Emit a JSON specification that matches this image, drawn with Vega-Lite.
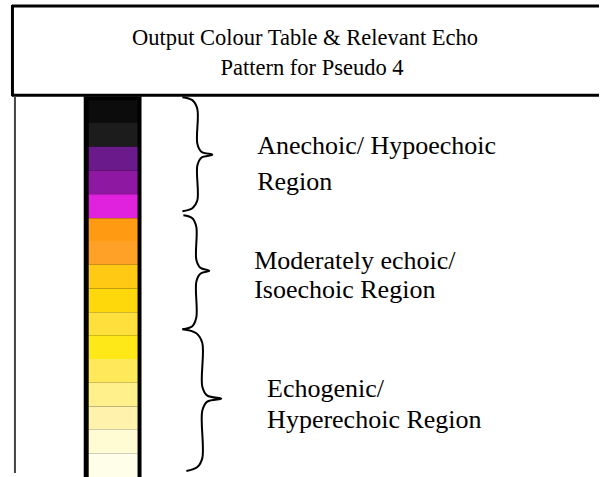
{
  "$schema": "https://vega.github.io/schema/vega-lite/v6.json",
  "width": 601,
  "height": 477,
  "autosize": {"type": "fit", "contains": "padding"},
  "padding": 0,
  "background": "white",
  "config": {"view": {"stroke": null}, "axis": {"disable": true}},
  "datasets": {
    "frame": [
      {"x": 12, "x2": 601, "y": 6, "y2": 6, "w": 3, "c": "#000000"},
      {"x": 12, "x2": 601, "y": 96, "y2": 96, "w": 3, "c": "#000000"},
      {"x": 12.5, "x2": 12.5, "y": 5, "y2": 97, "w": 3, "c": "#000000"},
      {"x": 15, "x2": 15, "y": 97, "y2": 477, "w": 2, "c": "#444444"}
    ],
    "cells": [
      {"level": 1, "top": 101, "bottom": 124, "colour": "#0c0c0c"},
      {"level": 2, "top": 124, "bottom": 148, "colour": "#1c1c1c"},
      {"level": 3, "top": 148, "bottom": 172, "colour": "#6b1a8c"},
      {"level": 4, "top": 172, "bottom": 196, "colour": "#8f18a3"},
      {"level": 5, "top": 196, "bottom": 220, "colour": "#e022de"},
      {"level": 6, "top": 220, "bottom": 243, "colour": "#ff9a12"},
      {"level": 7, "top": 243, "bottom": 267, "colour": "#ffa126"},
      {"level": 8, "top": 267, "bottom": 291, "colour": "#ffc914"},
      {"level": 9, "top": 291, "bottom": 315, "colour": "#ffd80c"},
      {"level": 10, "top": 315, "bottom": 338, "colour": "#ffdf3c"},
      {"level": 11, "top": 338, "bottom": 362, "colour": "#ffe818"},
      {"level": 12, "top": 362, "bottom": 386, "colour": "#ffe85a"},
      {"level": 13, "top": 386, "bottom": 410, "colour": "#fff08c"},
      {"level": 14, "top": 410, "bottom": 433, "colour": "#fff2ac"},
      {"level": 15, "top": 433, "bottom": 457, "colour": "#fffbd2"},
      {"level": 16, "top": 457, "bottom": 481, "colour": "#fffee8"}
    ],
    "braces": [
      {"b": 1, "i": 1, "x": 183, "y": 98},
      {"b": 1, "i": 2, "x": 193, "y": 101},
      {"b": 1, "i": 3, "x": 198, "y": 110},
      {"b": 1, "i": 4, "x": 198, "y": 145},
      {"b": 1, "i": 5, "x": 202, "y": 153},
      {"b": 1, "i": 6, "x": 213, "y": 156},
      {"b": 1, "i": 7, "x": 202, "y": 159},
      {"b": 1, "i": 8, "x": 198, "y": 167},
      {"b": 1, "i": 9, "x": 198, "y": 202},
      {"b": 1, "i": 10, "x": 193, "y": 210},
      {"b": 1, "i": 11, "x": 183, "y": 213},
      {"b": 2, "i": 1, "x": 184, "y": 217},
      {"b": 2, "i": 2, "x": 193, "y": 220},
      {"b": 2, "i": 3, "x": 197, "y": 229},
      {"b": 2, "i": 4, "x": 197, "y": 262},
      {"b": 2, "i": 5, "x": 201, "y": 270},
      {"b": 2, "i": 6, "x": 210, "y": 273},
      {"b": 2, "i": 7, "x": 201, "y": 276},
      {"b": 2, "i": 8, "x": 197, "y": 284},
      {"b": 2, "i": 9, "x": 197, "y": 320},
      {"b": 2, "i": 10, "x": 193, "y": 329},
      {"b": 2, "i": 11, "x": 183, "y": 332},
      {"b": 3, "i": 1, "x": 183, "y": 332},
      {"b": 3, "i": 2, "x": 197, "y": 336},
      {"b": 3, "i": 3, "x": 203, "y": 346},
      {"b": 3, "i": 4, "x": 203, "y": 390},
      {"b": 3, "i": 5, "x": 208, "y": 399},
      {"b": 3, "i": 6, "x": 222, "y": 402},
      {"b": 3, "i": 7, "x": 208, "y": 405},
      {"b": 3, "i": 8, "x": 203, "y": 414},
      {"b": 3, "i": 9, "x": 203, "y": 462},
      {"b": 3, "i": 10, "x": 198, "y": 471},
      {"b": 3, "i": 11, "x": 187, "y": 475}
    ],
    "labels": [
      {"x": 258, "y": 155, "text": "Anechoic/ Hypoechoic"},
      {"x": 258, "y": 192, "text": "Region"},
      {"x": 255, "y": 271, "text": "Moderately echoic/"},
      {"x": 255, "y": 301, "text": "Isoechoic Region"},
      {"x": 268, "y": 400, "text": "Echogenic/"},
      {"x": 268, "y": 432, "text": "Hyperechoic Region"}
    ],
    "title": [
      {"x": 306, "y": 45, "text": "Output Colour Table & Relevant Echo"},
      {"x": 313, "y": 76, "text": "Pattern for Pseudo 4"}
    ]
  },
  "layer": [
    {
      "data": {"name": "frame"},
      "mark": {"type": "rule"},
      "encoding": {
        "x": {"field": "x", "type": "quantitative", "scale": {"domain": [0, 601], "nice": false, "zero": false}},
        "x2": {"field": "x2"},
        "y": {"field": "y", "type": "quantitative", "scale": {"domain": [477, 0], "nice": false, "zero": false}},
        "y2": {"field": "y2"},
        "strokeWidth": {"field": "w", "type": "quantitative", "scale": null},
        "color": {"field": "c", "type": "nominal", "scale": null}
      }
    },
    {
      "data": {"values": [{"left": 84, "right": 142, "top": 97, "bottom": 481}]},
      "mark": {"type": "rect", "color": "#000000"},
      "encoding": {
        "x": {"field": "left", "type": "quantitative"},
        "x2": {"field": "right"},
        "y": {"field": "top", "type": "quantitative"},
        "y2": {"field": "bottom"}
      }
    },
    {
      "data": {"name": "cells"},
      "mark": {"type": "rect"},
      "transform": [{"calculate": "89", "as": "left"}, {"calculate": "138", "as": "right"}],
      "encoding": {
        "x": {"field": "left", "type": "quantitative"},
        "x2": {"field": "right"},
        "y": {"field": "top", "type": "quantitative"},
        "y2": {"field": "bottom"},
        "color": {"field": "colour", "type": "nominal", "scale": null}
      }
    },
    {
      "data": {"name": "braces"},
      "mark": {"type": "line", "interpolate": "catmull-rom", "color": "#000000", "strokeWidth": 2},
      "encoding": {
        "x": {"field": "x", "type": "quantitative"},
        "y": {"field": "y", "type": "quantitative"},
        "detail": {"field": "b", "type": "nominal"},
        "order": {"field": "i", "type": "quantitative"}
      }
    },
    {
      "data": {"name": "labels"},
      "mark": {"type": "text", "align": "left", "baseline": "alphabetic", "font": "Liberation Serif", "fontSize": 26, "color": "#000000"},
      "encoding": {
        "x": {"field": "x", "type": "quantitative"},
        "y": {"field": "y", "type": "quantitative"},
        "text": {"field": "text"}
      }
    },
    {
      "data": {"name": "title"},
      "mark": {"type": "text", "align": "center", "baseline": "alphabetic", "font": "Liberation Serif", "fontSize": 22.5, "color": "#000000"},
      "encoding": {
        "x": {"field": "x", "type": "quantitative"},
        "y": {"field": "y", "type": "quantitative"},
        "text": {"field": "text"}
      }
    }
  ]
}
